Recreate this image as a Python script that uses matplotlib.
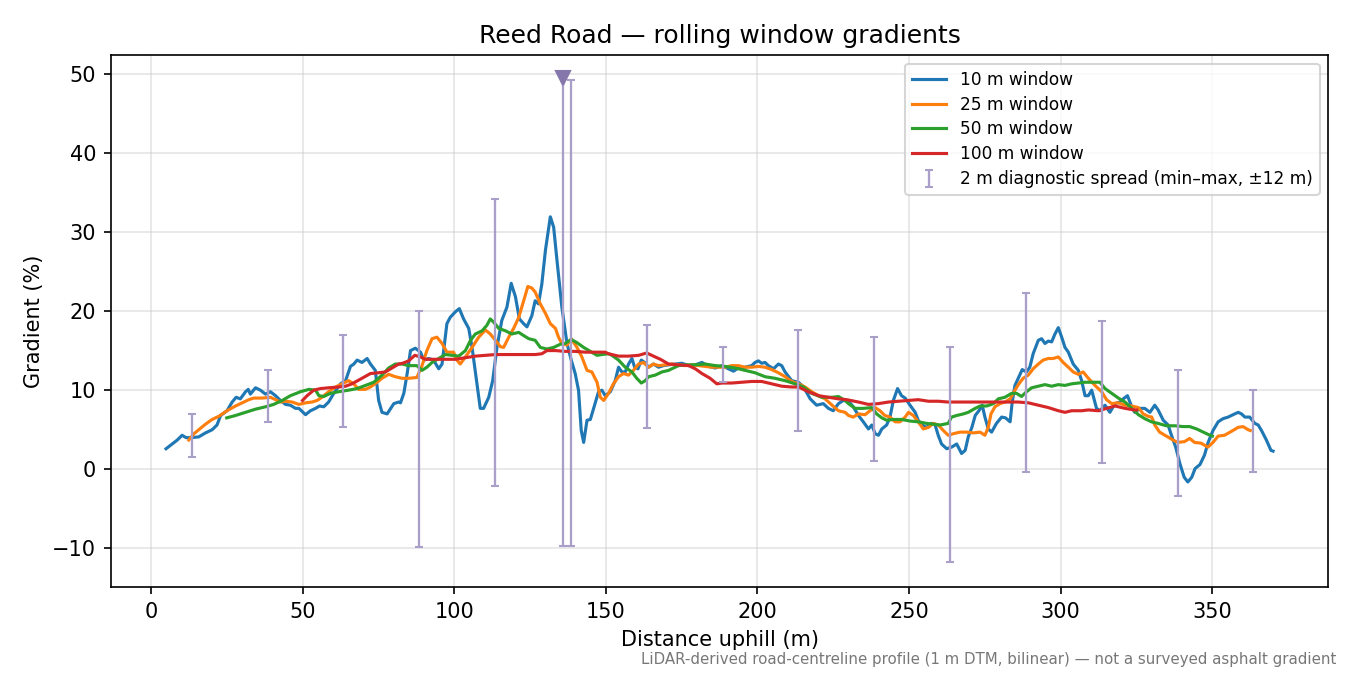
import matplotlib
matplotlib.use("Agg")
import matplotlib.pyplot as plt
import numpy as np

# 10 m rolling window gradient (%)
w10_x = [5, 7, 8.7, 10.3, 11.6, 13.4, 15.8, 18, 20.2, 21.8, 23, 25.1, 26.8, 28.1, 29.5, 31.2, 32.1, 32.8,
         34.5, 36.1, 37.8, 39.4, 41.1, 42.7, 44.4, 46, 47.7, 48.8, 51, 52.6, 54.3, 55.6, 57, 58.6, 60.3,
         62.5, 64.2, 65.8, 66.9, 68, 69.6, 71.3, 72.4, 74, 75.1, 76.2, 77.9, 80.1, 81.7, 82.3, 83.4, 84.5,
         85.6, 87.2, 88.9, 90, 91.6, 93.2, 94.9, 96, 97.6, 98.7, 100.4, 101.7, 103.1, 104.8, 105.9, 107.2,
         108.6, 109.7, 111.4, 112.7, 114.1, 115.7, 117.4, 118.8, 120.2, 121.5, 122.9, 124, 125.6, 126.7,
         127.8, 128.9, 130.1, 131.7, 132.8, 133.9, 135.5, 137.2, 138.6, 139.9, 141, 141.9, 142.7, 143.8,
         144.9, 146.2, 147.6, 148.7, 149.8, 151.5, 153.1, 154.2, 155.3, 156.4, 157.5, 158.6, 159.5, 160.6,
         161.7, 162.8, 164.1, 165.7, 167.4, 169, 170.7, 172.9, 175.1, 177.3, 179.5, 181.7, 183.9, 186.1,
         188.3, 190.4, 192.1, 193.7, 195.9, 198.1, 199.2, 200.3, 201.4, 202.5, 203.6, 205.3, 206.9, 208,
         209.1, 211.3, 213.5, 215.2, 217.4, 219.5, 221.7, 223.4, 225, 226.7, 228.3, 230, 231.6, 233.3,
         234.9, 236.6, 237.7, 238.8, 239.9, 241, 242.6, 243.7, 244.8, 246.2, 247.5, 248.7, 250.3, 252, 253,
         254.2, 255.8, 257.4, 258.5, 259.6, 260.7, 262.4, 264, 265.7, 267.3, 268.5, 269.5, 270.7, 271.8,
         273, 274.1, 275, 276.1, 277.2, 278.8, 280.5, 281.8, 283.3, 284, 284.9, 286.2, 287.3, 288.7, 289.8,
         290.9, 292.6, 293.7, 294.8, 295.9, 297, 298.1, 299.2, 300.3, 301.4, 302.5, 304.1, 305.8, 306.9,
         308, 309.1, 310.2, 311.8, 312.9, 314.6, 316.2, 317.9, 319.5, 320.6, 322, 323.4, 324.4, 326.1,
         327.7, 329.4, 331, 332.1, 333.8, 335.4, 336.5, 337.9, 339.3, 340.7, 341.9, 343.2, 344.3, 345.9,
         347.4, 348.6, 350.2, 351.9, 353.5, 355.2, 356.8, 358.5, 359.6, 360.7, 362.3, 364, 365.1, 366.2,
         367.8, 369.3, 370]
w10_y = [2.6, 3.2, 3.7, 4.3, 4.0, 4.0, 4.1, 4.6, 5.0, 5.6, 6.8, 7.4, 8.5, 9.1, 8.9, 9.8, 10.1, 9.5,
         10.3, 10.0, 9.5, 9.8, 9.3, 8.7, 8.2, 8.1, 7.7, 7.7, 6.9, 7.4, 7.7, 8.0, 7.9, 8.5, 9.6,
         10.8, 11.2, 13.0, 13.3, 13.8, 13.5, 14.0, 13.3, 12.5, 8.7, 7.2, 7.0, 8.3, 8.5, 8.4, 9.6, 12.1,
         15.0, 15.3, 14.8, 13.8, 14.0, 13.8, 12.7, 13.3, 18.4, 19.2, 19.9, 20.3, 19.0, 17.8, 15.4, 11.7,
         7.7, 7.7, 9.1, 11.2, 15.4, 18.8, 20.5, 23.5, 21.8, 19.0, 18.4, 18.0, 19.4, 21.3,
         20.9, 23.4, 27.7, 31.9, 30.6, 26.4, 20.5, 15.9, 13.8, 12.1, 10.0, 4.9, 3.4, 6.2,
         6.3, 8.0, 9.8, 10.0, 9.3, 9.8, 11.2, 12.9, 12.3, 12.3, 13.3, 14.0, 12.9, 12.7,
         13.8, 13.5, 12.9, 13.3, 12.9, 13.1, 13.2, 13.3, 13.4, 13.1, 13.2, 13.5, 13.0, 12.8,
         13.1, 12.7, 12.4, 12.8, 12.9, 13.1, 13.5, 13.7, 13.4, 13.5, 13.1, 12.7, 13.3, 13.1,
         12.3, 11.2, 11.0, 10.4, 8.9, 8.1, 8.3, 7.7, 7.4, 8.3, 8.7, 8.6, 7.9, 6.8,
         6.0, 5.1, 5.6, 4.5, 4.3, 5.1, 5.6, 6.6, 8.7, 10.2, 9.3, 9.0, 8.1, 7.2, 6.2,
         5.6, 5.3, 5.8, 5.7, 4.3, 3.2, 2.6, 2.8, 3.2, 2.0, 2.4, 4.1, 5.3, 6.8,
         7.4, 8.1, 6.6, 5.1, 4.7, 5.8, 6.6, 6.5, 6.0, 8.5, 10.6, 11.7, 12.6, 12.3, 12.9,
         14.6, 16.3, 16.5, 15.9, 16.2, 16.1, 17.1, 17.9, 16.7, 15.4, 14.8, 13.3, 12.5, 11.2,
         9.3, 9.3, 10.0, 7.7, 7.4, 8.1, 7.2, 8.3, 8.5, 8.9, 9.3, 7.9, 7.2, 7.7,
         7.7, 7.2, 8.1, 7.5, 6.2, 5.6, 4.3, 2.8, 0.7, -1.0, -1.6, -1.0, 0.1, 0.6,
         1.8, 3.4, 4.9, 6.0, 6.4, 6.6, 6.9, 7.2, 7.0, 6.6, 6.6, 5.8, 5.6, 4.9,
         3.7, 2.4, 2.3]

# 25 m window
w25_x = [12.5, 14.2, 15.8, 18, 20.2, 22.4, 25.1, 27.9, 30.1, 32.3, 33.9, 36.7, 39.4, 41.1, 42.7, 44.4,
         46.6, 48.8, 51, 53.1, 54.8, 56.4, 58.6, 60.9, 63, 65.2, 66.9, 68.5, 70.7, 72.4, 74.6, 76.2, 78.4,
         80.6, 82.8, 85, 87.7, 89.4, 91, 92.7, 94.3, 96, 97.6, 99.8, 100.9, 102, 103.7, 105.9, 108.1,
         110.3, 111.9, 113.6, 115.2, 116.3, 118, 119.6, 121.3, 122.9, 124.3, 125.6, 126.7, 128.4, 130.1,
         131.7, 133.4, 134.4, 135.5, 137.2, 138.6, 140.5, 142.1, 143.8, 145.4, 147.1, 148.2, 149.3, 150.9,
         152.5, 154.2, 155.8, 157.5, 159.1, 160.8, 162.4, 164.1, 165.7, 167.4, 169.6, 171.8, 174, 176.2,
         178.4, 180.6, 182.8, 185, 187.2, 189.4, 191.5, 193.7, 195.9, 198.1, 200.3, 202.5, 204.7, 206.9,
         209.1, 211.3, 213.5, 215.7, 217.9, 220.2, 222.3, 224.6, 226.7, 228.9, 230, 231.6, 233.3, 235.5,
         237.1, 238.8, 240.4, 242, 243.7, 245.4, 247, 248.7, 249.8, 251.4, 253, 254.7, 256.4, 258, 259.6,
         261.3, 262.9, 264.6, 266.8, 269, 271.2, 273.4, 275, 276.1, 277, 278.3, 280, 281.6, 283.3, 284.9,
         286.2, 287.6, 289.3, 290.9, 292.6, 294.2, 295.9, 297.5, 299.2, 300.8, 302.5, 304.1, 305.8, 307.4,
         309.1, 311.3, 313.5, 315.1, 316.8, 319, 321.2, 323.4, 325.6, 327.2, 328.8, 330, 331, 332.6, 334.8,
         337, 338.6, 340.8, 342.5, 344.1, 346.3, 348.5, 350.2, 351.9, 354, 356.3, 358.5, 360.1, 361.8, 362.5]
w25_y = [3.7, 4.5, 5.0, 5.7, 6.3, 6.7, 7.4, 8.0, 8.4, 8.8, 9.0, 9.0, 9.1, 8.8, 8.5, 8.6,
         8.5, 8.2, 8.4, 8.5, 8.7, 9.1, 9.8, 10.4, 10.8, 11.2, 10.8, 10.1, 10.1, 10.4, 11.0, 11.5, 12.0,
         11.7, 11.5, 11.5, 11.6, 13.1, 15.0, 16.5, 16.7, 15.9, 14.8, 14.8, 13.8, 13.3, 14.2, 15.4, 16.7,
         17.6, 17.1, 16.3, 15.5, 15.4, 16.7, 17.8, 19.2, 21.3, 23.1, 22.9, 22.4, 20.9, 19.7,
         18.4, 17.8, 16.7, 15.9, 15.7, 16.5, 15.4, 14.2, 12.5, 12.3, 11.0, 9.1, 8.7, 9.6,
         10.8, 11.7, 12.1, 11.9, 12.5, 13.3, 13.5, 12.9, 13.3, 13.1, 13.2, 13.3, 13.2, 13.1,
         13.2, 13.1, 13.0, 12.9, 12.9, 12.9, 13.1, 13.1, 12.9, 12.9, 13.0, 12.9, 12.6, 12.2,
         11.7, 11.1, 10.8, 10.4, 9.8, 9.3, 8.9, 8.1, 7.4, 7.2, 6.8, 6.6, 7.0, 6.9,
         7.4, 7.8, 7.4, 6.8, 6.6, 6.0, 6.0, 6.6, 7.2, 6.8, 6.0, 5.1, 5.3, 5.8, 5.6,
         4.9, 4.3, 4.5, 4.7, 4.7, 4.6, 4.7, 4.3, 5.3, 7.0, 7.9, 8.3, 8.5, 8.9, 10.0,
         10.8, 11.5, 11.9, 12.7, 13.3, 13.8, 14.0, 14.0, 14.2, 13.5, 12.9, 12.3, 12.0, 12.3,
         11.5, 10.6, 9.8, 8.8, 8.3, 8.4, 8.1, 8.0, 7.8, 7.0, 6.7, 6.6, 5.6, 4.7, 4.2,
         3.7, 3.4, 3.5, 3.9, 3.4, 3.3, 2.8, 3.4, 4.2, 4.3, 4.8, 5.3, 5.4, 5.0, 4.9]

# 50 m window
w50_x = [25, 27.9, 31.2, 34.5, 37.8, 40.5, 43.3, 46, 49.3, 52.1, 54.3, 55.4, 57, 59.2, 61.9, 65.2, 68,
         70.7, 73.5, 76.2, 78.4, 80.6, 82.8, 85, 87.7, 89.4, 91, 92.7, 94.9, 97.1, 99.3, 101.5, 103.7,
         105.4, 107, 109.2, 110.8, 111.9, 113, 114.7, 116.9, 119, 121.3, 122.9, 124.6, 126.7, 128.4,
         130.6, 132.8, 135, 136.6, 138.6, 140.5, 142.7, 144.9, 147.1, 148.7, 150.9, 152, 154.2, 156.4,
         158.6, 160.2, 161.7, 163, 164.1, 166.3, 168.5, 170.7, 172.3, 174, 176.7, 179.5, 182.8, 186.1,
         189.4, 192.6, 195.9, 199.2, 202.5, 205.8, 209.1, 212.4, 215.2, 217.9, 221.2, 224.6, 226.7, 228.9,
         230, 232.2, 234.9, 237.7, 239.3, 241, 242.6, 244.8, 247.5, 250.3, 253, 255.8, 258, 260.2, 262.9,
         264, 265.7, 267.9, 269.5, 271.8, 273.4, 275.6, 277.8, 279.4, 281.6, 283.8, 285.4, 287.1, 288.7,
         290.4, 292.6, 294.8, 297, 299.2, 301.4, 303.6, 305.8, 308, 310.2, 312.9, 314.6, 316.8, 319,
         321.2, 323.4, 325.6, 327.7, 329.9, 332.1, 334.8, 337.6, 340.3, 342.5, 344.8, 347, 349.2, 350]
w50_y = [6.5, 6.8, 7.2, 7.6, 7.9, 8.2, 8.7, 9.3, 9.8, 10.1, 10.0, 9.3, 9.2, 9.6, 9.8, 10.0, 10.2,
         10.6, 11.0, 11.9, 12.8, 13.3, 13.3, 13.1, 13.1, 12.5, 12.9, 13.5, 14.0, 14.5, 14.4, 14.3, 15.0,
         16.3, 17.1, 17.5, 18.2, 19.0, 18.6, 17.8, 17.5, 17.1, 17.3, 16.9, 16.5, 16.3, 15.4,
         15.2, 15.4, 15.8, 15.9, 16.4, 16.0, 15.4, 14.9, 14.4, 14.5, 14.6, 14.4, 13.8, 12.9,
         12.3, 11.5, 10.9, 11.2, 11.7, 11.9, 12.3, 12.5, 12.8, 13.1, 13.2, 13.2, 13.3, 13.1,
         13.0, 12.8, 12.5, 12.2, 11.7, 11.5, 11.2, 10.8, 10.4, 9.6, 9.1, 9.1, 9.2, 8.7,
         8.3, 7.7, 7.7, 7.8, 7.0, 6.5, 6.2, 6.3, 6.3, 6.1, 6.0, 5.8, 5.7, 5.6, 5.8,
         6.6, 6.8, 7.0, 7.2, 7.7, 8.0, 8.0, 8.3, 8.9, 9.1, 9.6, 9.6, 9.2, 9.8,
         10.3, 10.5, 10.7, 10.5, 10.7, 10.6, 10.8, 10.9, 11.0, 11.0, 11.0, 10.2, 9.6, 9.0,
         8.5, 7.7, 6.9, 6.4, 6.0, 5.8, 5.5, 5.5, 5.4, 5.4, 5.1, 4.7, 4.3, 4.2]

# 100 m window
w100_x = [50, 51.5, 53.7, 55.9, 58.6, 61.9, 64.2, 66.3, 69.6, 72.4, 75.1, 77.3, 79.5, 81.7, 83, 85, 87,
          88.9, 90.5, 93.8, 97.1, 100.4, 103.7, 107, 110.3, 113.6, 116.9, 120.2, 123.5, 126.7, 128.9,
          130.6, 133.4, 136.6, 139.9, 143.2, 146.5, 149.8, 150.9, 154.2, 157.5, 160.8, 163.5, 165.7, 168,
          170.7, 174, 177.3, 179.5, 181.7, 184.4, 186.6, 188.3, 191.5, 194.8, 198.1, 201.4, 204.7, 208,
          211.3, 213.5, 216.8, 220.2, 223.4, 226.7, 229.4, 233.3, 236.6, 239.9, 243.2, 246.5, 249.8, 253,
          256.4, 259.6, 262.9, 266.2, 272.8, 279.4, 286, 289.3, 292.6, 295.9, 299.2, 301.4, 303.6, 306.9,
          309.1, 312.4, 315.1, 317.9, 321.2, 324.2, 325]
w100_y = [8.7, 9.3, 10.0, 10.2, 10.3, 10.4, 10.5, 10.8, 11.5, 12.1, 12.2, 12.3, 12.8, 13.3, 13.4, 13.7, 14.4,
          14.2, 13.9, 13.9, 13.9, 13.9, 14.1, 14.3, 14.4, 14.5, 14.5, 14.5, 14.5, 14.5, 14.6,
          15.0, 15.0, 14.9, 14.9, 14.8, 14.8, 14.8, 14.6, 14.3, 14.3, 14.4, 14.7, 14.3, 13.9,
          13.3, 13.2, 13.1, 12.7, 12.1, 11.5, 10.8, 10.9, 10.9, 11.0, 11.1, 11.1, 10.8, 10.5,
          10.4, 10.4, 9.8, 9.3, 9.1, 8.9, 8.8, 8.5, 8.2, 8.3, 8.5, 8.6, 8.7, 8.8,
          8.6, 8.6, 8.5, 8.5, 8.5, 8.5, 8.5, 8.4, 8.1, 7.8, 7.4, 7.2, 7.4, 7.4,
          7.5, 7.4, 7.7, 8.0, 7.7, 7.5, 7.5]

# 2 m diagnostic spread (min/max within +-12 m)
diag_x = [13.5, 38.5, 63.5, 88.5, 113.5, 138.5, 163.5, 188.5, 213.5, 238.5, 263.5, 288.5, 313.5, 338.5, 363.5]
diag_lo = [1.6, 6.0, 5.3, -9.8, -2.1, -9.7, 5.2, 11.0, 4.9, 1.1, -11.7, -0.4, 0.8, -3.4, -0.4]
diag_hi = [7.0, 12.6, 17.0, 20.0, 34.1, 49.2, 18.2, 15.4, 17.6, 16.7, 15.4, 22.3, 18.7, 12.6, 10.0]

# steepest 2 m spot
peak_x = 136
peak_lo = -9.7
peak_hi = 49.4

fig, ax = plt.subplots(figsize=(9, 4.5), dpi=150)
fig.subplots_adjust(left=0.082, right=0.984, top=0.918, bottom=0.130)

ax.plot(w10_x, w10_y, color='tab:blue', lw=1.5, label='10 m window')
ax.plot(w25_x, w25_y, color='tab:orange', lw=1.5, label='25 m window')
ax.plot(w50_x, w50_y, color='tab:green', lw=1.5, label='50 m window')
ax.plot(w100_x, w100_y, color='tab:red', lw=1.5, label='100 m window')

eb_col = '#aa9fc8'
mid = (np.array(diag_lo) + np.array(diag_hi)) / 2
err = [mid - np.array(diag_lo), np.array(diag_hi) - mid]
ax.errorbar(diag_x, mid, yerr=err, fmt='none', ecolor=eb_col, elinewidth=1.1, capsize=2,
            label='2 m diagnostic spread (min\u2013max, \u00b112 m)')
pmid = (peak_lo + peak_hi) / 2
ax.errorbar([peak_x], [pmid], yerr=[[pmid - peak_lo], [peak_hi - pmid]], fmt='none',
            ecolor=eb_col, elinewidth=1.1, capsize=2)
ax.plot([peak_x], [peak_hi], marker='v', ms=7, color='#8577ab', ls='none')

ax.set_xlim(-13.25, 388.25)
ax.set_ylim(-14.9, 52.3)
ax.set_xticks(np.arange(0, 351, 50))
ax.set_yticks(np.arange(-10, 51, 10))
ax.grid(True, color='#cccccc', alpha=0.5, lw=0.8)
ax.set_axisbelow(True)

ax.set_title('Reed Road \u2014 rolling window gradients')
ax.set_xlabel('Distance uphill (m)')
ax.set_ylabel('Gradient (%)')
ax.legend(loc='upper right', fontsize=8.2, labelspacing=0.4)

fig.text(0.99, 0.012, 'LiDAR-derived road-centreline profile (1 m DTM, bilinear) \u2014 not a surveyed asphalt gradient',
         ha='right', va='bottom', fontsize=7.2, color='#777777')

fig.savefig('out.png', dpi=150)
